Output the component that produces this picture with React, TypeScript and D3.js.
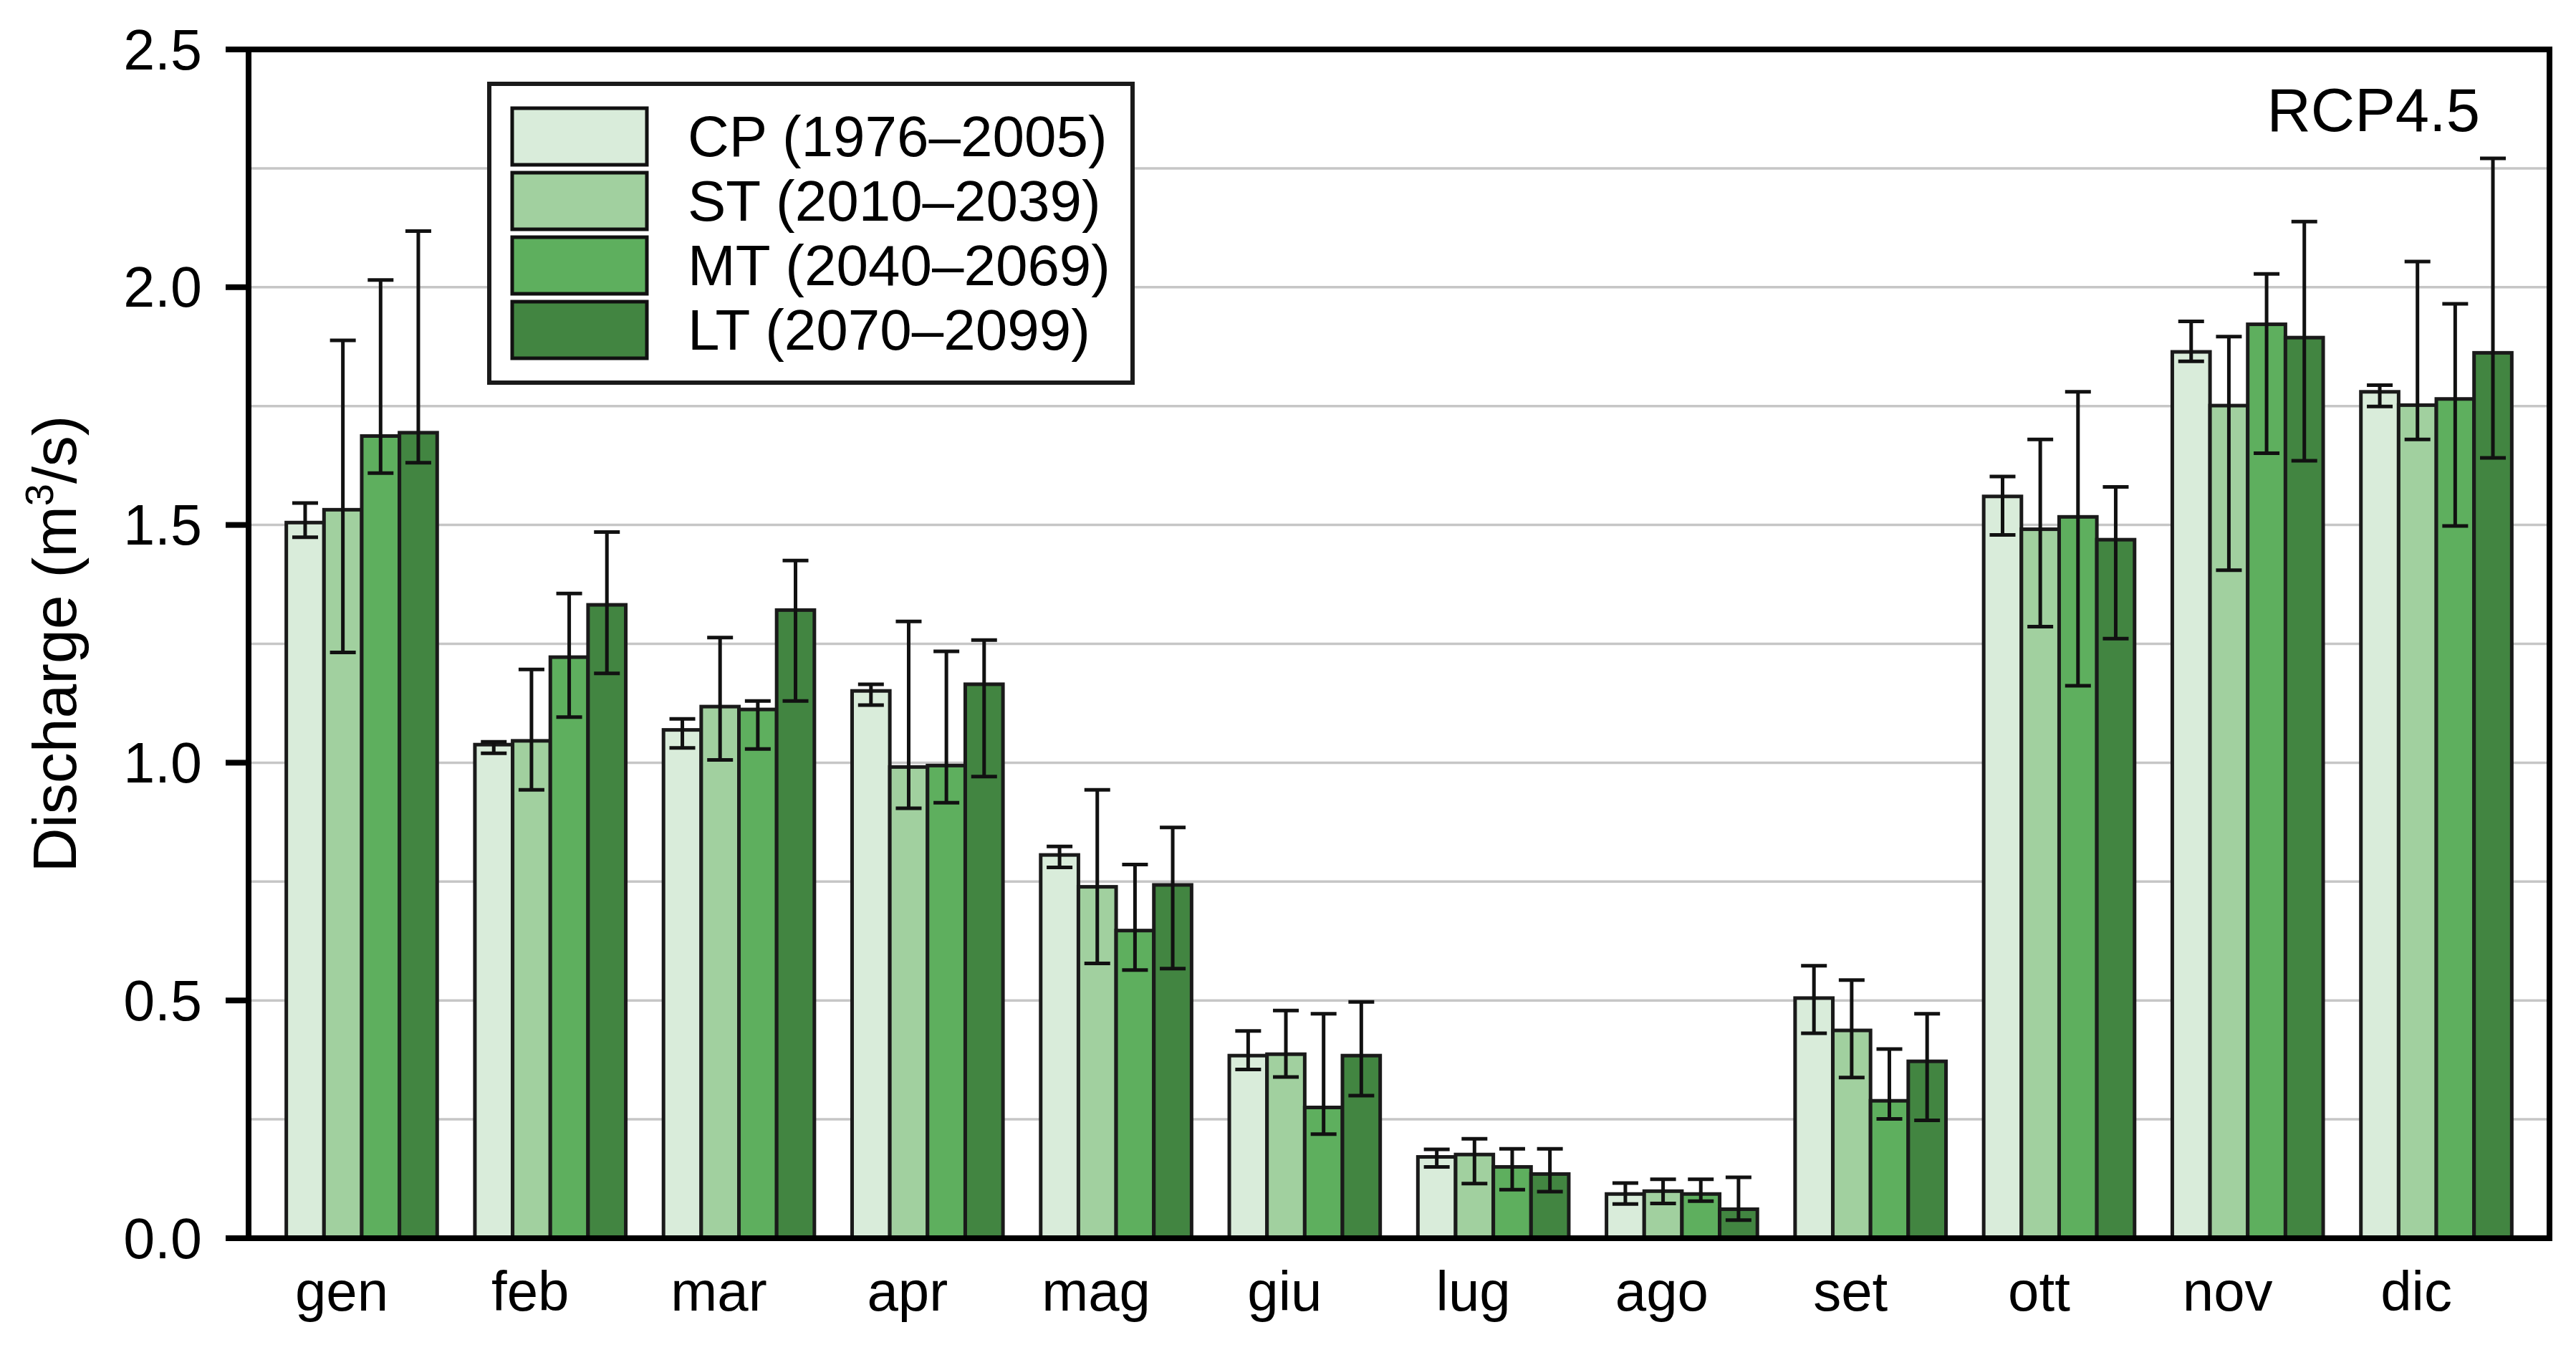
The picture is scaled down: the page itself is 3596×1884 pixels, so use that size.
import React from "react";
import * as d3 from "d3";

const months = ["gen", "feb", "mar", "apr", "mag", "giu", "lug", "ago", "set", "ott", "nov", "dic"];
const seriesNames = ["CP (1976–2005)", "ST (2010–2039)", "MT (2040–2069)", "LT (2070–2099)"];
const seriesColors = ["#d9ecda", "#a1d09f", "#5eaf5e", "#428541"];

const cpValues = [1.505, 1.038, 1.069, 1.151, 0.806, 0.384, 0.171, 0.093, 0.505, 1.560, 1.864, 1.780];
const cpLow = [1.474, 1.020, 1.031, 1.121, 0.780, 0.355, 0.150, 0.072, 0.431, 1.479, 1.844, 1.749];
const cpHigh = [1.546, 1.044, 1.092, 1.165, 0.824, 0.436, 0.187, 0.116, 0.573, 1.602, 1.928, 1.794];

const stValues = [1.532, 1.046, 1.118, 0.991, 0.739, 0.387, 0.176, 0.099, 0.437, 1.491, 1.751, 1.752];
const stLow = [1.232, 0.943, 1.006, 0.904, 0.578, 0.339, 0.115, 0.073, 0.338, 1.286, 1.405, 1.680];
const stHigh = [1.888, 1.196, 1.263, 1.297, 0.943, 0.479, 0.209, 0.124, 0.543, 1.680, 1.896, 2.054];

const mtValues = [1.687, 1.222, 1.112, 0.994, 0.647, 0.275, 0.150, 0.093, 0.289, 1.517, 1.922, 1.765];
const mtLow = [1.609, 1.096, 1.029, 0.916, 0.564, 0.219, 0.102, 0.078, 0.251, 1.162, 1.651, 1.498];
const mtHigh = [2.015, 1.356, 1.130, 1.234, 0.786, 0.472, 0.188, 0.124, 0.398, 1.780, 2.028, 1.965];

const ltValues = [1.694, 1.332, 1.321, 1.165, 0.743, 0.384, 0.135, 0.061, 0.372, 1.469, 1.894, 1.862];
const ltLow = [1.631, 1.188, 1.130, 0.971, 0.567, 0.300, 0.098, 0.038, 0.248, 1.261, 1.635, 1.641];
const ltHigh = [2.118, 1.485, 1.425, 1.258, 0.864, 0.497, 0.188, 0.128, 0.472, 1.580, 2.138, 2.271];

const yTicks = [0, 0.5, 1.0, 1.5, 2.0, 2.5];
const gridValues = [0.25, 0.5, 0.75, 1.0, 1.25, 1.5, 1.75, 2.0, 2.25];
const annotation = "RCP4.5";

const W = 3596;
const H = 1884;
const left = 347;
const right = 3559;
const top = 69;
const bottom = 1728;
const FONT = "'Liberation Sans', Arial, Helvetica, sans-serif";

export default function App() {
  const series = [
    { name: seriesNames[0], color: seriesColors[0], values: cpValues, lo: cpLow, hi: cpHigh },
    { name: seriesNames[1], color: seriesColors[1], values: stValues, lo: stLow, hi: stHigh },
    { name: seriesNames[2], color: seriesColors[2], values: mtValues, lo: mtLow, hi: mtHigh },
    { name: seriesNames[3], color: seriesColors[3], values: ltValues, lo: ltLow, hi: ltHigh },
  ];

  const x = d3.scaleBand<string>().domain(months).range([left, right]).paddingInner(0.2).paddingOuter(0.2);
  const xs = d3.scaleBand<number>().domain([0, 1, 2, 3]).range([0, x.bandwidth()]).padding(0);
  const y = d3.scaleLinear().domain([0, 2.5]).range([bottom, top]);
  const capW = 36;
  const labelOffset = -28;

  return (
    <svg
      width={W}
      height={H}
      viewBox={`0 0 ${W} ${H}`}
      style={{ position: "absolute", left: 0, top: 0, background: "#fff" }}
      fontFamily={FONT}
    >
      <rect x={0} y={0} width={W} height={H} fill="#fff" />
      {/* gridlines */}
      {gridValues.map((g) => (
        <line key={"g" + g} x1={left} x2={right} y1={y(g)} y2={y(g)} stroke="#c6c6c6" strokeWidth={3.5} />
      ))}
      {/* bars */}
      {months.map((m, i) => (
        <g key={m}>
          {series.map((s, j) => {
            const bx = (x(m) as number) + (xs(j) as number);
            const bw = xs.bandwidth();
            return (
              <rect
                key={s.name}
                x={bx}
                y={y(s.values[i])}
                width={bw}
                height={y(0) - y(s.values[i])}
                fill={s.color}
                stroke="#1a1a1a"
                strokeWidth={5}
              />
            );
          })}
        </g>
      ))}
      {/* error bars */}
      {months.map((m, i) => (
        <g key={"e" + m}>
          {series.map((s, j) => {
            const cx = (x(m) as number) + (xs(j) as number) + xs.bandwidth() / 2;
            return (
              <g key={s.name} stroke="#111" strokeWidth={5}>
                <line x1={cx} x2={cx} y1={y(s.lo[i])} y2={y(s.hi[i])} />
                <line x1={cx - capW / 2} x2={cx + capW / 2} y1={y(s.lo[i])} y2={y(s.lo[i])} />
                <line x1={cx - capW / 2} x2={cx + capW / 2} y1={y(s.hi[i])} y2={y(s.hi[i])} />
              </g>
            );
          })}
        </g>
      ))}
      {/* frame */}
      <rect x={left} y={top} width={right - left} height={bottom - top} fill="none" stroke="#000" strokeWidth={8} />
      {/* y ticks */}
      {yTicks.map((t) => (
        <g key={"t" + t}>
          <line x1={left - 32} x2={left} y1={y(t)} y2={y(t)} stroke="#000" strokeWidth={8} />
          <text x={282} y={y(t)} textAnchor="end" dominantBaseline="central" fontSize={79} fill="#000">
            {t.toFixed(1)}
          </text>
        </g>
      ))}
      {/* x labels */}
      {months.map((m) => (
        <text
          key={"l" + m}
          x={(x(m) as number) + x.bandwidth() / 2 + labelOffset}
          y={1829}
          textAnchor="middle"
          fontSize={78}
          fill="#000"
        >
          {m}
        </text>
      ))}
      {/* y-axis title */}
      <text
        transform={`translate(106, ${(top + bottom) / 2}) rotate(-90)`}
        textAnchor="middle"
        fontSize={86}
        fill="#000"
      >
        Discharge (m<tspan fontSize={56} dy={-32}>3</tspan>
        <tspan dy={32}>/s)</tspan>
      </text>
      {/* annotation */}
      <text x={3462} y={183} textAnchor="end" fontSize={85} fill="#000">
        {annotation}
      </text>
      {/* legend */}
      <g>
        <rect x={683} y={117} width={898} height={417} fill="#fff" stroke="#1a1a1a" strokeWidth={6} />
        {series.map((s, j) => {
          const sy = 151 + j * 90;
          return (
            <g key={"lg" + j}>
              <rect x={715} y={sy} width={188} height={79} fill={s.color} stroke="#111" strokeWidth={5} />
              <text x={960} y={sy + 39} dominantBaseline="central" fontSize={80} fill="#000">
                {s.name}
              </text>
            </g>
          );
        })}
      </g>
    </svg>
  );
}
